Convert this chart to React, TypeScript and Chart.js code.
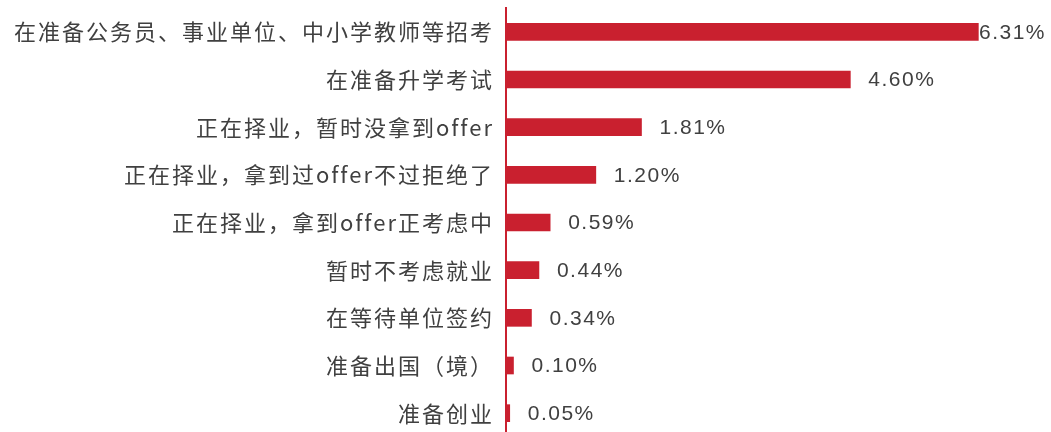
import React, { useEffect, useRef } from "react";
import { Chart, registerables } from "chart.js";

Chart.register(...registerables);

const categories: string[] = [
  "在准备公务员、事业单位、中小学教师等招考",
  "在准备升学考试",
  "正在择业，暂时没拿到offer",
  "正在择业，拿到过offer不过拒绝了",
  "正在择业，拿到offer正考虑中",
  "暂时不考虑就业",
  "在等待单位签约",
  "准备出国（境）",
  "准备创业",
];
const values: number[] = [6.31, 4.6, 1.81, 1.2, 0.59, 0.44, 0.34, 0.1, 0.05];
const valueLabels: string[] = values.map((v) => v.toFixed(2) + "%");

const RED = "#C9202F";
const TEXT = "#404040";

const spacingPlugin = {
  id: "spacing",
  beforeDraw(chart: any) {
    (chart.ctx as any).letterSpacing = "2px";
  },
  afterDraw(chart: any) {
    const ctx = chart.ctx as any;
    ctx.save();
    ctx.letterSpacing = "1.5px";
    ctx.font = '21px "Liberation Sans", Arial, sans-serif';
    ctx.fillStyle = TEXT;
    ctx.textBaseline = "middle";
    ctx.textAlign = "left";
    const meta = chart.getDatasetMeta(0);
    meta.data.forEach((bar: any, i: number) => {
      const label = valueLabels[i];
      const w = ctx.measureText(label).width;
      let x = bar.x + 18;
      const maxX = chart.width - w - 5;
      if (x > maxX) x = maxX;
      ctx.fillText(label, x, bar.y + 1);
    });
    ctx.restore();
    ctx.letterSpacing = "0px";
  },
};

export default function App() {
  const ref = useRef<HTMLCanvasElement>(null);
  useEffect(() => {
    if (!ref.current) return;
    const chart = new Chart(ref.current, {
      type: "bar",
      data: {
        labels: categories,
        datasets: [
          {
            data: values,
            backgroundColor: RED,
            borderWidth: 0,
            barThickness: 17,
          },
        ],
      },
      options: {
        indexAxis: "y",
        animation: false,
        responsive: false,
        maintainAspectRatio: false,
        layout: { padding: { top: 8, right: 21, bottom: 0, left: 0 } },
        plugins: {
          legend: { display: false },
          tooltip: { enabled: false },
        },
        scales: {
          x: {
            display: false,
            min: 0,
            max: 7,
          },
          y: {
            grid: { display: false, drawTicks: false },
            border: { display: true, color: RED, width: 2 },
            ticks: {
              color: TEXT,
              padding: 12,
              font: { family: '"Noto Sans CJK SC", sans-serif', size: 22 },
            },
            afterFit(scale: any) {
              scale.width = 506;
              scale.paddingTop = 0;
              scale.paddingBottom = 0;
            },
          },
        },
      },
      plugins: [spacingPlugin],
    });
    return () => chart.destroy();
  }, []);
  return (
    <div
      style={{
        position: "fixed",
        left: 0,
        top: 0,
        width: 1051,
        height: 432,
        overflow: "hidden",
        background: "#fff",
      }}
    >
      <canvas ref={ref} width={1051} height={437} style={{ display: "block" }} />
    </div>
  );
}
